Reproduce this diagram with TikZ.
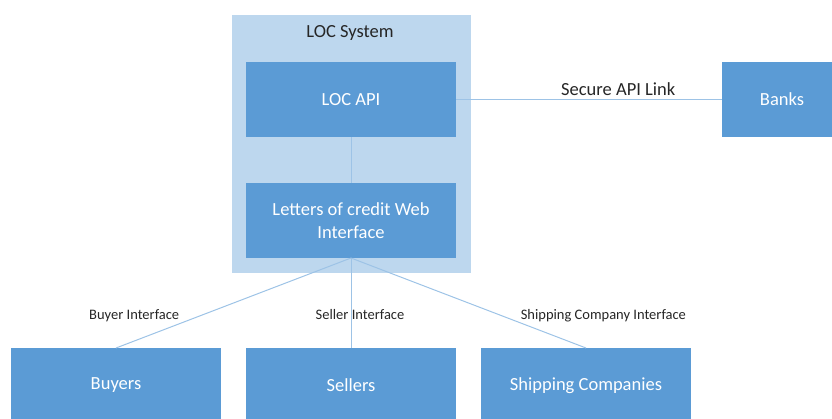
\documentclass[tikz,border=0pt]{standalone}
\usepackage{fontspec}
\setmainfont{Carlito}
\usetikzlibrary{
  positioning,
  fit,
  backgrounds
}
\definecolor{boxBlue}{HTML}{5B9BD5}
\definecolor{sysBlue}{HTML}{BDD7EE}
\definecolor{linkBlue}{HTML}{9DC3E6}
\definecolor{labelGray}{HTML}{262626}

\begin{document}
\begin{tikzpicture}[
    x=1pt,y=-1pt,
    partNode/.style={fill=boxBlue,text=white,draw=none,inner sep=0pt,outer sep=0pt,
      minimum width=210pt,minimum height=75pt,align=center,
      font=\fontsize{18.5}{23}\selectfont},
    link/.style={draw=linkBlue,line width=1pt},
    linkLabel/.style={text=labelGray,inner sep=0pt,font=\fontsize{14.5}{17}\selectfont},
    sysLabel/.style={text=labelGray,font=\fontsize{18.5}{23}\selectfont}
  ]
    \useasboundingbox (0,0) rectangle (832,418);

    % LOC system
    \node[partNode] (api) at (351,99.5) {LOC API};
    \node[partNode, below=46pt of api] (web) {Letters of credit Web\\Interface};
    \coordinate (sysTop) at (351,29.5);
    \node[sysLabel] (sysTitle) at (350,33) {LOC System};

    \begin{scope}[on background layer]
      \node[fill=sysBlue,inner sep=14.5pt,fit={(sysTop) (api) (web)}] (locsys) {};
    \end{scope}

    % banks
    \node[partNode, minimum width=120pt, right=266pt of api] (banks) {Banks};

    % users
    \node[partNode, below=90pt of web] (sellers) {Sellers};
    \node[partNode, left=25pt of sellers] (buyers) {Buyers};
    \node[partNode, right=25pt of sellers] (shipping) {Shipping Companies};

    % links
    \draw[link] (api) -- (web);
    \draw[link] (api) -- node[sysLabel,pos=0.61,anchor=base,inner sep=0pt,yshift=4.5pt] {Secure API Link} (banks);
    \draw[link] (web.south) -- node[linkLabel,pos=0.678,anchor=base east,xshift=-12pt] {Buyer Interface} (buyers.north);
    \draw[link] (web.south) -- node[linkLabel,pos=0.678,anchor=base,xshift=9pt] {Seller Interface} (sellers.north);
    \draw[link] (web.south) -- node[linkLabel,pos=0.678,anchor=base west,xshift=10pt] {Shipping Company Interface} (shipping.north);
  \end{tikzpicture}
\end{document}
